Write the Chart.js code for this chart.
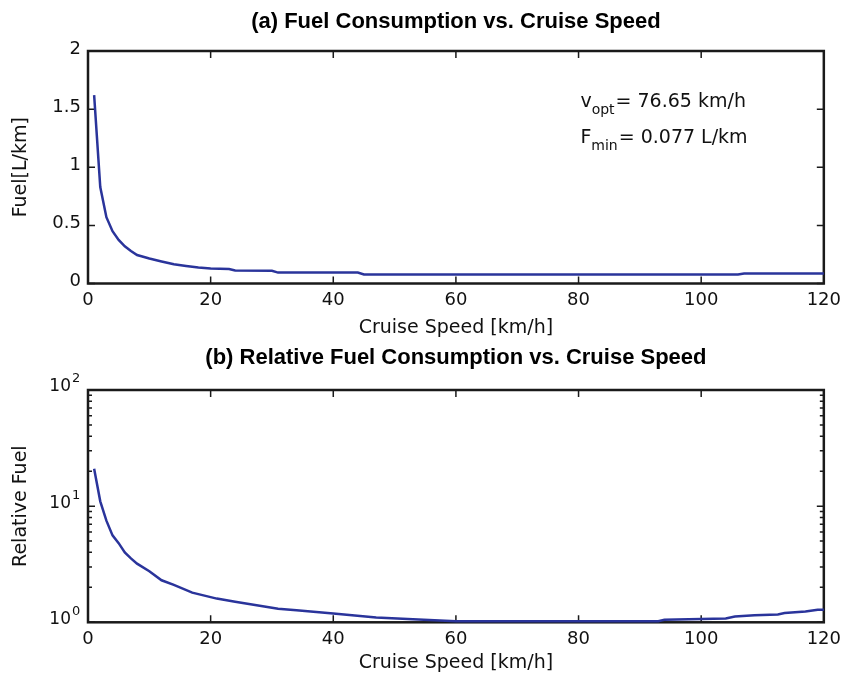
<!DOCTYPE html>
<html>
<head>
<meta charset="utf-8">
<script src="https://cdn.jsdelivr.net/npm/chart.js@4.4.0/dist/chart.umd.min.js"></script>
<style>
    body { margin: 0; background: #fff; }
    #wrap { position: relative; width: 847px; height: 679px; }
    canvas { position: absolute; left: 0; }
</style>
</head>
<body>
<div id="wrap">
    <canvas id="graficoA" width="847" height="340" style="top:0"></canvas>
    <canvas id="graficoB" width="847" height="339" style="top:340px"></canvas>
</div>
<script>
// (a) consumo de combustível [L/km]
const velocidadesA = [1, 2, 3, 4, 5, 6, 7, 8, 9, 10, 12, 14, 16, 18, 20, 23, 24, 30, 31, 44, 45, 106, 107, 120];
const consumo = [1.62, 0.83, 0.57, 0.45, 0.375, 0.32, 0.28, 0.245, 0.23, 0.215, 0.19, 0.165, 0.15, 0.137, 0.128, 0.124, 0.112, 0.11, 0.094, 0.094, 0.077, 0.077, 0.085, 0.085];

// (b) consumo relativo (escala log)
const velocidadesB = [1, 2, 3, 4, 5, 6, 7, 8, 10, 12, 14, 17, 21, 24, 28, 31, 34, 40, 47, 53, 60, 93, 94, 100, 104, 105.5, 108.7, 112.5, 113.6, 117, 119, 120];
const relativo = [21, 11, 7.5, 5.6, 4.8, 4.0, 3.55, 3.2, 2.75, 2.3, 2.1, 1.8, 1.6, 1.5, 1.39, 1.31, 1.27, 1.19, 1.1, 1.06, 1.02, 1.02, 1.05, 1.07, 1.08, 1.12, 1.15, 1.17, 1.2, 1.24, 1.28, 1.28];

const ticksX = [0, 20, 40, 60, 80, 100, 120];
const ticksYA = [0, 0.5, 1, 1.5, 2];
const expoentes = [0, 1, 2];
const menoresLog = [2, 3, 4, 5, 6, 7, 8, 9, 20, 30, 40, 50, 60, 70, 80, 90];

const corLinha = 'rgb(42, 52, 155)';
const corTexto = '#111';
const fonteTicks = {family: 'DejaVu Sans', size: 18};
const fonteEixo = {family: 'DejaVu Sans', size: 19};
const fonteTitulo = {family: 'Liberation Sans', size: 22, weight: 'bold'};

/*
 * Caixa à volta do gráfico com marcas para dentro (estilo matlab).
 */
function caixaEixos(yMaior, yMenor) {
    return {
        id: 'caixa',
        beforeDatasetsDraw(chart) {
            const {ctx, chartArea: a, scales} = chart;
            ctx.save();
            ctx.strokeStyle = '#1a1a1a';
            ctx.lineWidth = 1.5;
            ctx.beginPath();
            for (let v of ticksX) {
                const px = scales.x.getPixelForValue(v);
                ctx.moveTo(px, a.bottom); ctx.lineTo(px, a.bottom - 7);
                ctx.moveTo(px, a.top); ctx.lineTo(px, a.top + 7);
            }
            const marca = (v, len) => {
                const py = scales.y.getPixelForValue(v);
                ctx.moveTo(a.left, py); ctx.lineTo(a.left + len, py);
                ctx.moveTo(a.right, py); ctx.lineTo(a.right - len, py);
            };
            yMaior.forEach(v => marca(v, 7));
            yMenor.forEach(v => marca(v, 4));
            ctx.stroke();
            ctx.lineWidth = 2.5;
            ctx.strokeRect(a.left, a.top, a.right - a.left, a.bottom - a.top);
            ctx.restore();
        }
    };
}

// texto com índice (v_opt, F_min)
function textoIndice(ctx, x, y, base, indice, resto) {
    ctx.font = '19px "DejaVu Sans"';
    ctx.fillText(base, x, y);
    x += ctx.measureText(base).width;
    ctx.font = '14px "DejaVu Sans"';
    ctx.fillText(indice, x, y + 7);
    x += ctx.measureText(indice).width + 1;
    ctx.font = '19px "DejaVu Sans"';
    ctx.fillText(resto, x, y);
}

const anotacao = {
    id: 'anotacao',
    afterDatasetsDraw(chart) {
        const {ctx, scales} = chart;
        ctx.save();
        ctx.fillStyle = corTexto;
        ctx.textAlign = 'left';
        ctx.textBaseline = 'alphabetic';
        const x = scales.x.getPixelForValue(80.3);
        textoIndice(ctx, x, scales.y.getPixelForValue(1.515), 'v', 'opt', '= 76.65 km/h');
        textoIndice(ctx, x, scales.y.getPixelForValue(1.206), 'F', 'min', '= 0.077 L/km');
        ctx.restore();
    }
};

// rótulos 10^n do eixo log
const rotulosLog = {
    id: 'rotulosLog',
    afterDraw(chart) {
        const {ctx, scales: {y}} = chart;
        ctx.save();
        ctx.fillStyle = corTexto;
        ctx.textBaseline = 'middle';
        for (let e of expoentes) {
            const py = y.getPixelForValue(Math.pow(10, e));
            ctx.font = '17px "DejaVu Sans"';
            ctx.textAlign = 'right';
            ctx.fillText('10', 71, py - 3);
            ctx.font = '13px "DejaVu Sans"';
            ctx.textAlign = 'left';
            ctx.fillText(String(e), 72, py - 11);
        }
        ctx.restore();
    }
};

function eixoX(altura, padTitulo) {
    return {
        type: 'linear', min: 0, max: 120,
        afterFit: s => { s.height = altura; },
        grid: {display: false, drawTicks: false},
        border: {display: false},
        ticks: {stepSize: 20, padding: 6, color: corTexto, font: fonteTicks},
        title: {display: true, text: 'Cruise Speed [km/h]', color: corTexto, font: fonteEixo,
            padding: {top: 0, bottom: padTitulo}}
    };
}

function titulo(texto, cima, baixo) {
    return {display: true, text: texto, color: '#000', font: fonteTitulo, fullSize: false,
        padding: {top: cima, bottom: baixo}};
}

new Chart(document.getElementById('graficoA'), {
    type: 'line',
    data: {
        datasets: [{
            data: velocidadesA.map((v, i) => ({x: v, y: consumo[i]})),
            borderColor: corLinha,
            borderWidth: 2.5,
            pointRadius: 0,
            tension: 0,
            clip: false
        }]
    },
    options: {
        responsive: false,
        animation: false,
        layout: {padding: {left: 0, right: 21, top: 0, bottom: 0}},
        plugins: {
            legend: {display: false},
            tooltip: {enabled: false},
            title: titulo('(a) Fuel Consumption vs. Cruise Speed', 9, 15.6)
        },
        scales: {
            x: eixoX(56.5, 1),
            y: {
                min: 0, max: 2,
                afterFit: s => { s.width = 88; },
                grid: {display: false, drawTicks: false},
                border: {display: false},
                ticks: {stepSize: 0.5, padding: 7, labelOffset: -2, color: corTexto, font: fonteTicks,
                    callback: v => String(v)},
                title: {display: true, text: 'Fuel[L/km]', color: corTexto, font: fonteEixo, padding: {top: 10}}
            }
        }
    },
    plugins: [caixaEixos(ticksYA, []), anotacao]
});

new Chart(document.getElementById('graficoB'), {
    type: 'line',
    data: {
        datasets: [{
            data: velocidadesB.map((v, i) => ({x: v, y: relativo[i]})),
            borderColor: corLinha,
            borderWidth: 2.5,
            pointRadius: 0,
            tension: 0,
            clip: false
        }]
    },
    options: {
        responsive: false,
        animation: false,
        layout: {padding: {left: 0, right: 19, top: 0, bottom: 0}},
        plugins: {
            legend: {display: false},
            tooltip: {enabled: false},
            title: titulo('(b) Relative Fuel Consumption vs. Cruise Speed', 4.8, 18.8)
        },
        scales: {
            x: eixoX(56.7, 5),
            y: {
                type: 'logarithmic', min: 1, max: 100,
                afterFit: s => { s.width = 88; },
                grid: {display: false, drawTicks: false},
                border: {display: false},
                ticks: {display: false},
                title: {display: true, text: 'Relative Fuel', color: corTexto, font: fonteEixo, padding: {top: 10}}
            }
        }
    },
    plugins: [caixaEixos([1, 10, 100], menoresLog), rotulosLog]
});
</script>
</body>
</html>
